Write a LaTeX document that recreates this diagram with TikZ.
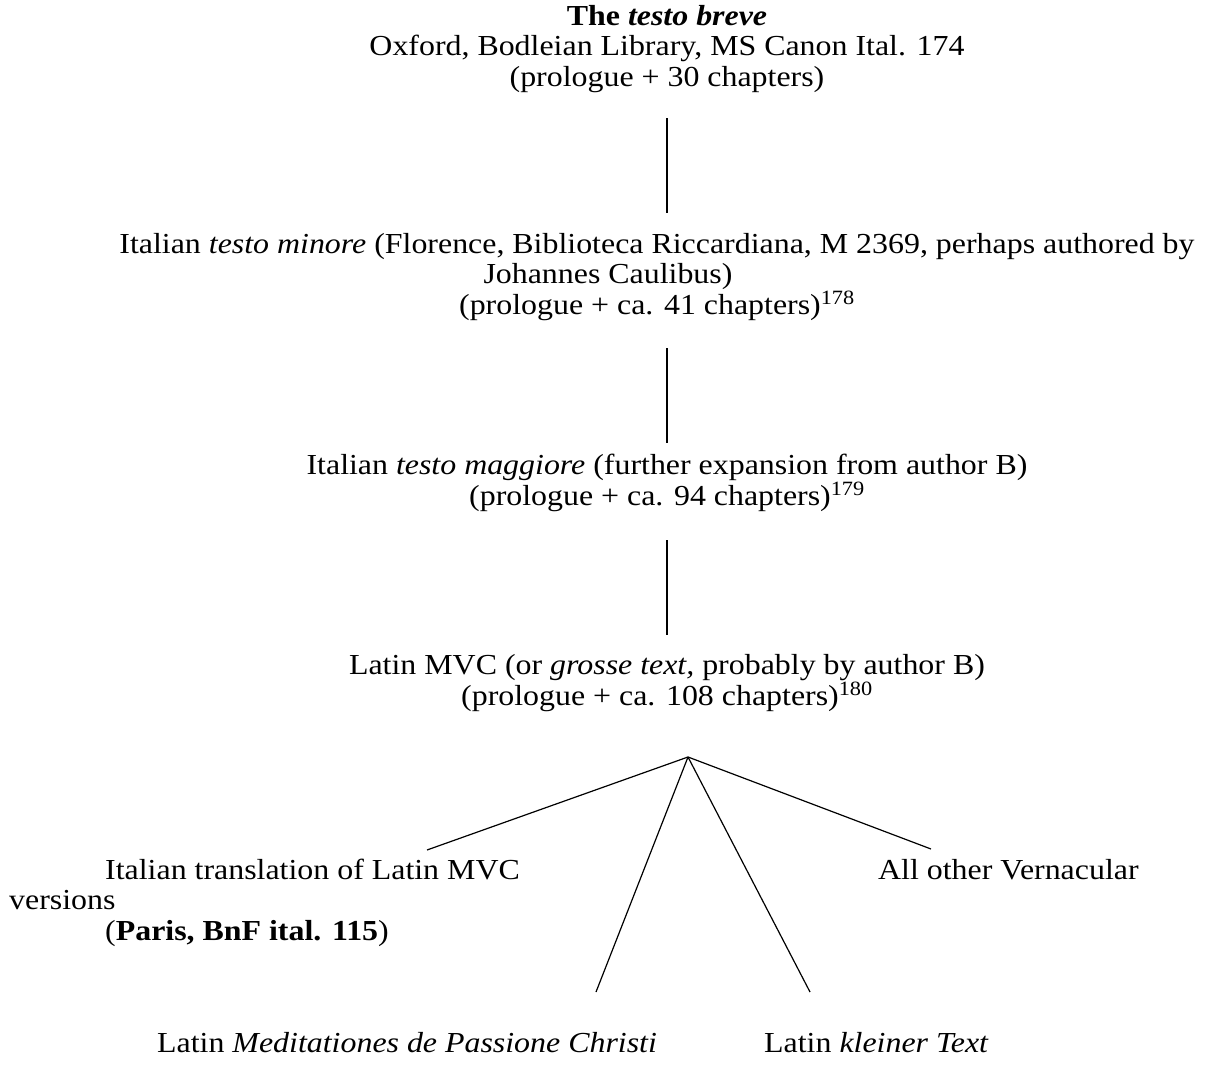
\documentclass[tikz,border=0pt]{standalone}
\usepackage{fontspec}
\setmainfont[FakeStretch=1.1]{Liberation Serif}
\usetikzlibrary{positioning}

\begin{document}
\begin{tikzpicture}[
    x=1pt, y=-1pt,
    stage/.style={inner sep=0pt, align=center, anchor=base, font=\fontsize{29}{30.5}\selectfont},
    branch/.style={inner sep=0pt, align=left, anchor=base west, font=\fontsize{29}{30.5}\selectfont},
    link/.style={line width=1.2pt}
]
    \useasboundingbox (0,0) rectangle (1208,1065);

    % main line of versions (anchored on the last baseline)
    \node[stage] (breve) at (667, 86)
        {\textbf{The \textit{testo breve}}\\
         Oxford, Bodleian Library, MS Canon Ital. 174\\
         (prologue + 30 chapters)};
    \node[stage] (minore) at (657, 314)
        {Italian \textit{testo minore} (Florence, Biblioteca Riccardiana, M 2369, perhaps authored by\\
         Johannes Caulibus)\hspace*{98pt}\mbox{}\\
         (prologue + ca. 41 chapters)\textsuperscript{178}};
    \node[stage] (maggiore) at (667, 505)
        {Italian \textit{testo maggiore} (further expansion from author B)\\
         (prologue + ca. 94 chapters)\textsuperscript{179}};
    \node[stage] (mvc) at (667, 705)
        {Latin MVC (or \textit{grosse text,} probably by author B)\\
         (prologue + ca. 108 chapters)\textsuperscript{180}};

    \draw[link] ([yshift=-32pt]breve.base) -- ([xshift=10pt, yshift=101pt]minore.base);
    \draw[link] ([xshift=10pt, yshift=-34pt]minore.base) -- ([yshift=62pt]maggiore.base);
    \draw[link] ([yshift=-35pt]maggiore.base) -- ([yshift=70pt]mvc.base);

    % descendants of the Latin MVC
    \node[branch] (italtr) at (9, 940)
        {\hspace*{96pt}Italian translation of Latin MVC\\
         versions\\
         \hspace*{96pt}(\textbf{Paris, BnF ital. 115})};
    \node[branch] (vernac) at (878, 879) {All other Vernacular};
    \node[branch] (passione) at (157, 1052) {Latin \textit{Meditationes de Passione Christi}};
    \node[branch] (kleiner) at (764, 1052) {Latin \textit{kleiner Text}};

    \coordinate (apex) at ([xshift=21pt, yshift=-52pt]mvc.base);
    \coordinate (italtr-top) at (427, 850);
    \coordinate (vernac-top) at (931, 849);
    \coordinate (passione-top) at (596, 992);
    \coordinate (kleiner-top) at (810, 992);

    \foreach \e in {italtr-top, passione-top, kleiner-top, vernac-top}
        \draw[link] (apex) -- (\e);
\end{tikzpicture}
\end{document}
